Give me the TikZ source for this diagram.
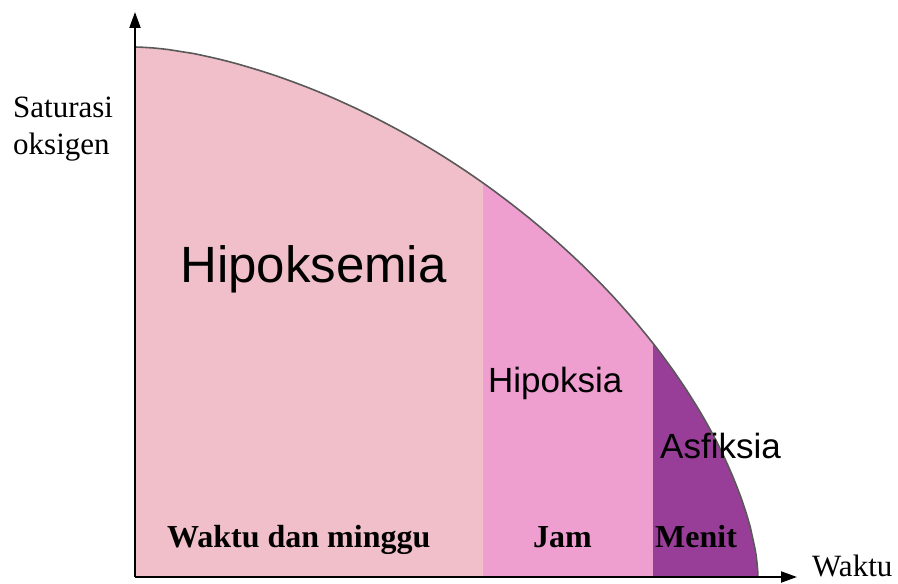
\documentclass[tikz,border=0pt]{standalone}
\usepackage{fontspec}
\setmainfont{Liberation Serif}
\setsansfont{Liberation Sans}
\usetikzlibrary{calc, positioning}
\usetikzlibrary{arrows.meta}

\definecolor{pinkA}{HTML}{F1BFC9}
\definecolor{pinkB}{HTML}{EE9FD0}
\definecolor{ungu}{HTML}{983E98}

\begin{document}
\begin{tikzpicture}[x=1pt,y=1pt,
  serif/.style={font=\fontsize{31}{36}\selectfont, anchor=base west, inner sep=0pt},
  serifbold/.style={font=\fontsize{32}{36}\selectfont\bfseries, anchor=base west, inner sep=0pt},
  sanslab/.style={font=\fontsize{35}{40}\selectfont\sffamily, anchor=base west, inner sep=0pt},
  axis/.style={line width=2pt, -{Triangle[length=16pt,width=11pt]}}]
\useasboundingbox (-135,-7) rectangle (763,577);
\def\ax{623}
\def\by{530}
\def\ex{1.22}
\def\xjam{348}
\def\xmenit{518}
\coordinate (O) at (0,0);
\coordinate (Ytop) at (0,565);
\coordinate (Xend) at (662,0);
\coordinate (Ka) at (0,\by);
\coordinate (Kb) at (\ax,0);

% daerah di bawah kurva
\fill[pinkA] (O) -- (Ka) -- plot[domain=89.9:0.1, samples=90] ({\ax*cos(\x)^\ex},{\by*sin(\x)^\ex}) -- (Kb) -- cycle;
\begin{scope}
\clip (O) -- (Ka) -- plot[domain=89.9:0.1, samples=90] ({\ax*cos(\x)^\ex},{\by*sin(\x)^\ex}) -- (Kb) -- cycle;
\fill[pinkB] (\xjam,0) rectangle (\ax,\by);
\fill[ungu] (\xmenit,0) rectangle (\ax,\by);
\end{scope}
\draw[line width=1.6pt, black!65] (Ka) -- plot[domain=89.9:0.1, samples=90] ({\ax*cos(\x)^\ex},{\by*sin(\x)^\ex}) -- (Kb);

% sumbu
\draw[axis] (O) -- (Ytop);
\draw[axis] (O) -- (Xend);

\node[serif] (satA) at (-122,459) {Saturasi};
\node[serif] (satB) at (-122,422) {oksigen};
\node[serif] (waktu) at (677,0) {Waktu};

\node[sanslab, font=\fontsize{51}{56}\selectfont\sffamily] (hipoksemia) at (45,294) {Hipoksemia};
\node[sanslab] (hipoksia) at (353,184) {Hipoksia};
\node[sanslab] (asfiksia) at (525,118) {Asfiksia};

\node[serifbold] (minggu) at (32,29) {Waktu dan minggu};
\node[serifbold] (jam) at (398,29) {Jam};
\node[serifbold] (menit) at (520,29) {Menit};
\end{tikzpicture}
\end{document}
